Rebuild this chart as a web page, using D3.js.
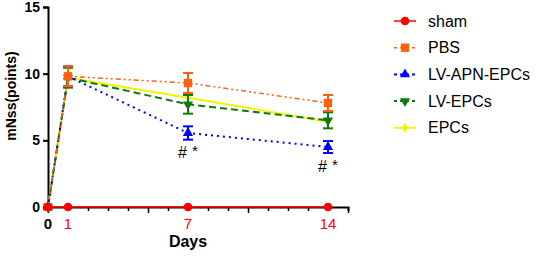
<!DOCTYPE html>
<meta charset="utf-8">
<script src="https://d3js.org/d3.v7.min.js"></script>
<style>
	body{
		margin:0;
		background:#fff;
		font-family: 'Liberation Sans', Arial, sans-serif;
	}
</style>
<div id="chart"></div>
<script>
	var days = [0, 1, 7, 14]
	var seriesNames = ["sham", "PBS", "LV-APN-EPCs", "LV-EPCs", "EPCs"]
	var shamMean = [0, 0, 0, 0]
	var shamErr = [0, 0, 0, 0]
	var pbsMean = [0, 9.8, 9.3, 7.8]
	var pbsErr = [0, 0.75, 0.75, 0.6]
	var apnMean = [0, 9.8, 5.55, 4.5]
	var apnErr = [0, 0.75, 0.5, 0.45]
	var lvMean = [0, 9.7, 7.7, 6.5]
	var lvErr = [0, 0.75, 0.7, 0.6]
	var epcMean = [0, 9.7, 8.2, 6.4]
	var epcErr = [0, 0.7, 0, 0]
	var xTickLabels = ["0", "1", "7", "14"]
	var yTicks = [0, 5, 10, 15]
	var sigLabels = [{day: 7, v: 5.55}, {day: 14, v: 4.5}]

	var series = [
		{name: seriesNames[0], mean: shamMean, err: shamErr, color: "#ff0000", dash: null, sym: d3.symbolCircle, size: 60, w: 1.5},
		{name: seriesNames[1], mean: pbsMean, err: pbsErr, color: "#ff5f0f", dash: "5,3,2,3,2,3", sym: d3.symbolSquare, size: 70, w: 1.5},
		{name: seriesNames[2], mean: apnMean, err: apnErr, color: "#0000ff", dash: "2,4", sym: d3.symbolTriangle, size: 45, w: 2},
		{name: seriesNames[3], mean: lvMean, err: lvErr, color: "#0e7a0e", dash: "7,4", sym: d3.symbolTriangle, size: 45, w: 2, flip: true},
		{name: seriesNames[4], mean: epcMean, err: epcErr, color: "#f2f20a", dash: null, sym: d3.symbolDiamond, size: 30, w: 2}
	]

	var w = 536
	var h = 257
	var svg = d3.select("#chart").append("svg").attr("width", w).attr("height", h)

	var x = d3.scaleLinear().domain([0, 15]).range([48, 348])
	var y = d3.scaleLinear().domain([0, 15]).range([207, 7])

	// y axis
	var yAxis = svg.append("g").attr("transform", "translate(48,0)")
		.call(d3.axisLeft(y).tickValues(yTicks).tickSize(5).tickPadding(3))
	yAxis.select(".domain").attr("stroke", "#000").attr("stroke-width", 2)
	yAxis.selectAll(".tick line").attr("stroke-width", 2)
	yAxis.selectAll("text").style("font-size", "14px").style("font-weight", "bold")
		.style("font-family", "'Liberation Sans', Arial, sans-serif").attr("fill", "#000")

	// x axis
	var xAxis = svg.append("g").attr("transform", "translate(0,207)")
		.call(d3.axisBottom(x).tickValues(d3.range(0, 16)).tickSize(4).tickFormat(""))
	xAxis.select(".domain").attr("stroke", "#000").attr("stroke-width", 2)
	xAxis.selectAll(".tick line").attr("stroke-width", 1.5)
		.attr("y2", function(d){ return d % 5 == 0 ? 6 : 4 })

	svg.append("g").selectAll("text")
		.data(days)
		.join("text")
		.attr("x", function(d){ return x(d) })
		.attr("y", 229)
		.attr("text-anchor", "middle")
		.attr("fill", function(d, i){ return i == 0 ? "#000" : "#ff0000" })
		.style("font-size", "15px")
		.style("font-weight", function(d, i){ return i == 0 ? "bold" : "normal" })
		.text(function(d, i){ return xTickLabels[i] })

	svg.append("text").text("Days").attr("x", x(7)).attr("y", 247)
		.attr("text-anchor", "middle").style("font-size", "16px").style("font-weight", "bold")

	svg.append("text").text("mNss(points)")
		.attr("transform", "translate(16,96) rotate(-90)")
		.attr("text-anchor", "middle").style("font-size", "14px").style("font-weight", "bold")

	var line = d3.line()
		.x(function(d){ return x(d.day) })
		.y(function(d){ return y(d.v) })

	// draw back to front
	var order = [4, 3, 2, 1, 0]
	order.forEach(function(k){
		var s = series[k]
		var pts = days.map(function(d, i){ return {day: d, v: s.mean[i], e: s.err[i]} })
		var g = svg.append("g")
		g.append("path").datum(pts)
			.attr("d", line)
			.attr("fill", "none")
			.attr("stroke", s.color)
			.attr("stroke-width", s.w)
			.attr("stroke-dasharray", s.dash)

		var eb = g.selectAll(".eb").data(pts.filter(function(p){ return p.e > 0 })).join("g")
		eb.append("line")
			.attr("x1", function(p){ return x(p.day) }).attr("x2", function(p){ return x(p.day) })
			.attr("y1", function(p){ return y(p.v - p.e) }).attr("y2", function(p){ return y(p.v + p.e) })
			.attr("stroke", s.color).attr("stroke-width", 2)
		;[-1, 1].forEach(function(sg){
			eb.append("line")
				.attr("x1", function(p){ return x(p.day) - 5 }).attr("x2", function(p){ return x(p.day) + 5 })
				.attr("y1", function(p){ return y(p.v + sg * p.e) }).attr("y2", function(p){ return y(p.v + sg * p.e) })
				.attr("stroke", s.color).attr("stroke-width", 2)
		})

		g.selectAll(".pt").data(pts).join("path")
			.attr("d", d3.symbol().type(s.sym).size(s.size))
			.attr("transform", function(p){
				return "translate(" + x(p.day) + "," + y(p.v) + ")" + (s.flip ? " rotate(180)" : "")
			})
			.attr("fill", s.color)
	})

	// significance marks
	var sig = svg.append("g").selectAll("g").data(sigLabels).join("g")
		.attr("transform", function(d){ return "translate(" + x(d.day) + "," + (y(d.v) + 25) + ")" })
	sig.append("text").text("#").attr("x", -1).attr("text-anchor", "end")
		.style("font-size", "16px")
	sig.append("text").text("*").attr("x", 4).attr("y", -2)
		.style("font-size", "15px")

	// legend
	var leg = svg.append("g").selectAll("g").data(series).join("g")
		.attr("transform", function(d, i){ return "translate(394," + (21 + i * 26.7) + ")" })
	leg.append("line")
		.attr("x1", 0).attr("x2", 22)
		.attr("stroke", function(d){ return d.color })
		.attr("stroke-width", function(d){ return d.w })
		.attr("stroke-dasharray", function(d){ return d.dash ? "3,3" : null })
	leg.append("path")
		.attr("d", function(d){ return d3.symbol().type(d.sym).size(d.size)() })
		.attr("transform", function(d){ return "translate(11,0)" + (d.flip ? " rotate(180)" : "") })
		.attr("fill", function(d){ return d.color })
	leg.append("text")
		.attr("x", 34).attr("y", 5.5)
		.style("font-size", "16px")
		.text(function(d){ return d.name })
</script>
